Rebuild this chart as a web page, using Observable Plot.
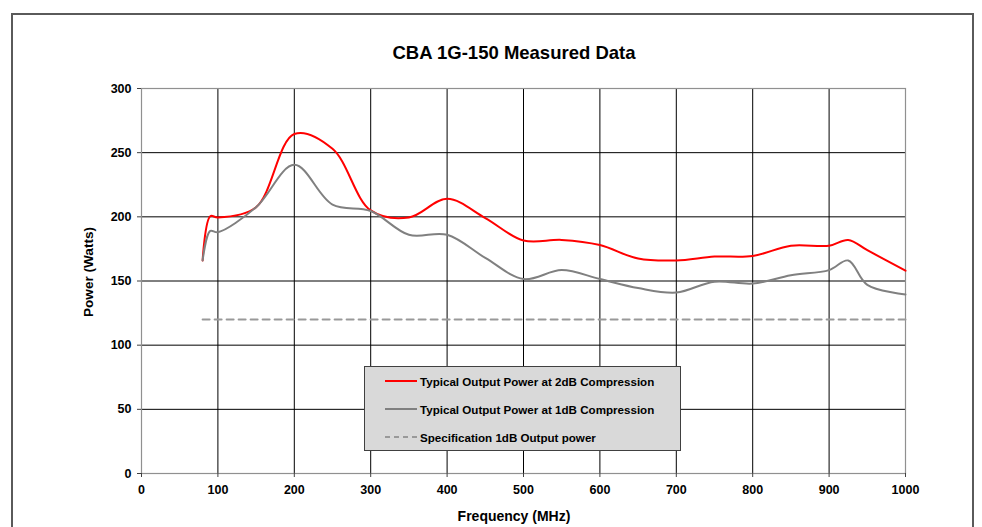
<!DOCTYPE html>
<html>
<head>
<meta charset="utf-8">
<script src="https://cdn.jsdelivr.net/npm/d3@7"></script>
<script src="https://cdn.jsdelivr.net/npm/@observablehq/plot@0.6"></script>
<style>
  html, body { margin: 0; padding: 0; background: #fff; }
  #wrap { position: relative; width: 982px; height: 527px; overflow: hidden; font-family: "Liberation Sans", Arial, sans-serif; }
  #frame { position: absolute; left: 11px; top: 13px; width: 963px; height: 560px; border: 2px solid #5a5a5a; border-bottom: none; box-sizing: border-box; }
  #title { position: absolute; left: 0; width: 1028px; top: 42px; text-align: center; font-weight: bold; font-size: 18.5px; color: #000; }
  #xlabel { position: absolute; left: 0; width: 1028px; top: 508px; text-align: center; font-weight: bold; font-size: 14px; color: #000; }
  #ylabel { position: absolute; left: 88px; top: 272px; transform: translate(-50%, -50%) rotate(-90deg); white-space: nowrap; font-weight: bold; font-size: 13.6px; color: #000; }
  #legend { position: absolute; left: 364px; top: 366px; width: 317px; height: 85px; background: #d9d9d9; border: 1px solid #404040; box-sizing: border-box; }
  .item { position: absolute; left: 20px; height: 14px; display: flex; align-items: center; font-weight: bold; font-size: 11.6px; color: #000; white-space: nowrap; }
  .item svg { margin-right: 3px; }
  svg { overflow: visible; }
</style>
</head>
<body>
<div id="wrap">
  <div id="chart" style="position:absolute;left:0;top:0;"></div>
  <div id="frame"></div>
  <div id="title"></div>
  <div id="xlabel"></div>
  <div id="ylabel"></div>
  <div id="legend"></div>
</div>
<script>
const titleText = "CBA 1G-150 Measured Data";
const xLabelText = "Frequency (MHz)";
const yLabelText = "Power (Watts)";

const freq = [80, 90, 100, 150, 200, 250, 300, 350, 400, 450, 500, 550, 600, 650, 700, 750, 800, 850, 900, 925, 950, 1000];
const power2dB = [166, 200.5, 199.5, 207.5, 264.5, 253, 205, 199.5, 214, 199, 181.5, 182, 178, 167.5, 166, 169, 169.5, 177.5, 177.5, 182, 174, 158];
const power1dB = [166, 189, 188, 207.5, 240.5, 209.5, 204.5, 186, 186, 168, 151.5, 158.5, 151.5, 144.5, 141, 149.5, 148, 154.5, 158.5, 166, 147, 139.5];
const specFreq = [80, 1000];
const specPower = [120, 120];

const xTicks = [0, 100, 200, 300, 400, 500, 600, 700, 800, 900, 1000];
const yTicks = [0, 50, 100, 150, 200, 250, 300];
const xGrid = [100, 200, 300, 400, 500, 600, 700, 800, 900];
const yGrid = [50, 100, 150, 200, 250];

const seriesNames = [
  "Typical Output Power at 2dB Compression",
  "Typical Output Power at 1dB Compression",
  "Specification 1dB Output power"
];
const seriesColors = ["#ff0000", "#808080", "#999999"];

const red = freq.map((f, i) => ({f, p: power2dB[i]}));
const gray = freq.map((f, i) => ({f, p: power1dB[i]}));
const spec = specFreq.map((f, i) => ({f, p: specPower[i]}));

const chart = Plot.plot({
  width: 982,
  height: 527,
  marginLeft: 141,
  marginRight: 77,
  marginTop: 88,
  marginBottom: 54,
  style: { fontFamily: "Liberation Sans, Arial, sans-serif", fontSize: "12.5px", fontWeight: "bold", color: "#000", background: "transparent" },
  x: { domain: [0, 1000] },
  y: { domain: [0, 300] },
  marks: [
    Plot.ruleX(xGrid, { stroke: "#000", strokeWidth: 1 }),
    Plot.ruleY(yGrid, { stroke: "#000", strokeWidth: 1 }),
    Plot.frame({ stroke: "#909090", strokeWidth: 1.2 }),
    Plot.axisX({ ticks: xTicks, tickSize: 4, tickPadding: 8, label: null, tickFormat: d => String(d), stroke: "#404040" }),
    Plot.axisY({ ticks: yTicks, tickSize: 4, tickPadding: 6, label: null, tickFormat: d => String(d), stroke: "#404040" }),
    Plot.line(red, { x: "f", y: "p", stroke: seriesColors[0], strokeWidth: 2, curve: "catmull-rom" }),
    Plot.line(gray, { x: "f", y: "p", stroke: seriesColors[1], strokeWidth: 2, curve: "catmull-rom" }),
    Plot.line(spec, { x: "f", y: "p", stroke: seriesColors[2], strokeWidth: 2, strokeDasharray: "7,5" })
  ]
});
document.getElementById("chart").appendChild(chart);

document.getElementById("title").textContent = titleText;
document.getElementById("xlabel").textContent = xLabelText;
document.getElementById("ylabel").textContent = yLabelText;

const legend = document.getElementById("legend");
const rowTops = [7, 35, 63];
seriesNames.forEach((name, i) => {
  const div = document.createElement("div");
  div.className = "item";
  div.style.top = rowTops[i] + "px";
  const dash = i === 2 ? ' stroke-dasharray="5,4"' : '';
  div.innerHTML = `<svg width="32" height="4"><line x1="0" y1="2" x2="32" y2="2" stroke="${seriesColors[i]}" stroke-width="2"${dash}/></svg><span></span>`;
  div.querySelector("span").textContent = name;
  legend.appendChild(div);
});
</script>
</body>
</html>
